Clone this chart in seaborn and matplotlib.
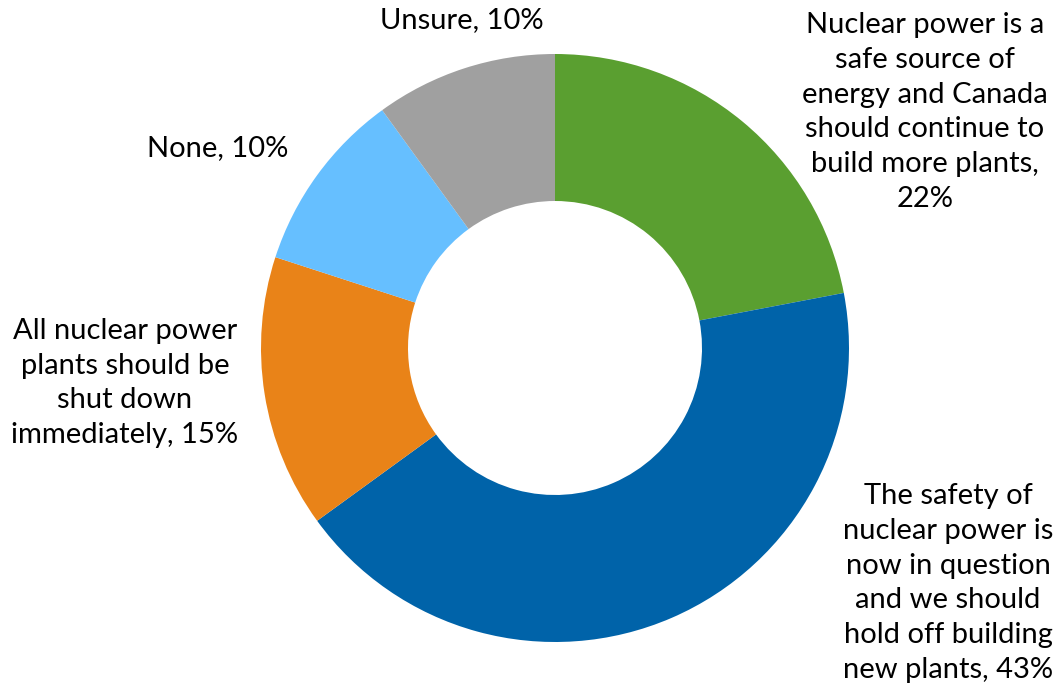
import matplotlib.pyplot as plt
import seaborn as sns

# ==================== DATA ====================
labels = [
    "Nuclear power is a\nsafe source of\nenergy and Canada\nshould continue to\nbuild more plants,\n22%",
    "The safety of\nnuclear power is\nnow in question\nand we should\nhold off building\nnew plants, 43%",
    "All nuclear power\nplants should be\nshut down\nimmediately, 15%",
    "None, 10%",
    "Unsure, 10%",
]
values = [22, 43, 15, 10, 10]
colors = ["#5A9F30", "#0063A9", "#E98318", "#66BFFF", "#A0A0A0"]

# label centres in pixels of the 1064x699 image
label_px = [(925, 112), (948, 583), (125, 383), (218, 148), (462, 20)]

# ==================== PLOT ====================
sns.set_theme(style="white")
plt.rcParams['font.family'] = ['Lato', 'DejaVu Sans']

W, H = 1064, 699
CX, CY, R = 555, 348, 294

fig = plt.figure(figsize=(W / 100, H / 100), dpi=100)
ax = fig.add_axes([0, 0, 1, 1])

ax.pie(values, colors=colors, startangle=90, counterclock=False,
       radius=1, wedgeprops=dict(width=0.5, linewidth=0))

for text, (px, py) in zip(labels, label_px):
    ax.text((px - CX) / R, (CY - py) / R, text, ha='center', va='center',
            fontsize=21, color='black', linespacing=1.41)

ax.set_xlim(-CX / R, (W - CX) / R)
ax.set_ylim(-(H - CY) / R, CY / R)
ax.set_aspect('equal')
ax.axis('off')

plt.savefig('out.png', dpi=100)
